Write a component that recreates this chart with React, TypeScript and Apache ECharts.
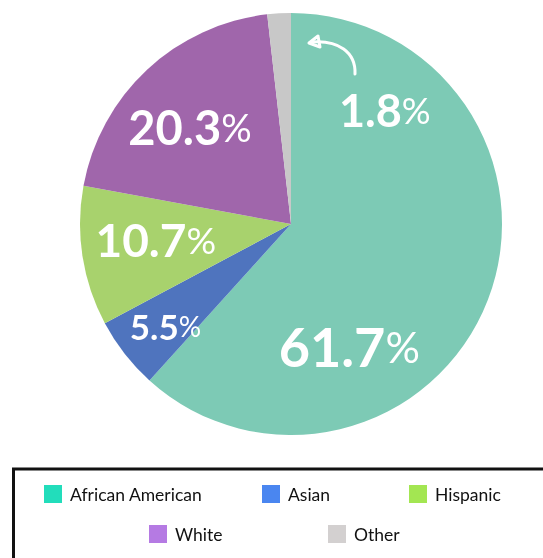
import React, { useEffect, useRef } from "react";
import * as echarts from "echarts";

const categories = ["African American", "Asian", "Hispanic", "White", "Other"];
const values = [61.7, 5.5, 10.7, 20.3, 1.8];
const sliceColors = ["#7DCAB5", "#4F74BE", "#A8D26D", "#A066AB", "#C8C8C8"];
const legendColors = ["#22DDBB", "#4A86F0", "#A3E652", "#B57AE3", "#D3D0D0"];

export default function App() {
  const ref = useRef<HTMLDivElement>(null);
  useEffect(() => {
    if (!ref.current) return;
    const chart = echarts.init(ref.current, undefined, { renderer: "svg" });
    const labelOffsets: Record<string, number[]> = {
      "African American": [-43, 84],
      Asian: [-40, 35],
      Hispanic: [-28, -1],
      White: [-27, -18],
      Other: [100, -6],
    };
    const bigSize: Record<string, number> = {
      "African American": 54,
      Asian: 35,
      Hispanic: 46,
      White: 47,
      Other: 45,
    };
    const legendPos = [
      { left: 44, top: 485 },
      { left: 262, top: 485 },
      { left: 409, top: 485 },
      { left: 149, top: 525 },
      { left: 328, top: 525 },
    ];
    const data = categories.map((name, i) => {
      const s = bigSize[name];
      return {
        name,
        value: values[i],
        itemStyle: { color: sliceColors[i] },
        label: {
          offset: labelOffsets[name],
          rich: {
            n: { fontSize: s, fontWeight: "bold", color: "#fff", fontFamily: "Lato" },
            p: { fontSize: Math.round(s * 0.8), fontWeight: "normal", color: "#fff", fontFamily: "Lato" },
          },
        },
      };
    });
    chart.setOption({
      animation: false,
      legend: categories.map((name, i) => ({
        data: [{ name, itemStyle: { color: legendColors[i] } }],
        left: legendPos[i].left,
        top: legendPos[i].top,
        padding: 0,
        itemWidth: 18,
        itemHeight: 18,
        icon: "rect",
        selectedMode: false,
        textStyle: { fontSize: 17.5, color: "#111", fontFamily: "Lato", padding: [0, 0, 0, 3] },
      })),
      graphic: [
        {
          type: "rect",
          shape: { x: 13.5, y: 469, width: 600, height: 200 },
          style: { fill: "none", stroke: "#111", lineWidth: 3 },
          silent: true,
        },
        {
          type: "bezierCurve",
          shape: { x1: 355, y1: 74, cpx1: 356, cpy1: 52, cpx2: 338, cpy2: 40, x2: 312, y2: 42 },
          style: { stroke: "#fff", lineWidth: 3, fill: "none", lineCap: "round" },
          silent: true,
          z: 10,
        },
        {
          type: "polygon",
          shape: { points: [[309, 43], [318, 36], [320, 47]] },
          style: { stroke: "#fff", lineWidth: 3, fill: "none", lineJoin: "round" },
          silent: true,
          z: 10,
        },
      ],
      series: [
        {
          type: "pie",
          center: [291, 224],
          radius: [0, 211],
          startAngle: 90,
          clockwise: true,
          silent: true,
          emphasis: { disabled: true },
          itemStyle: { borderWidth: 0 },
          label: {
            show: true,
            position: "inside",
            formatter: (p: any) => `{n|${p.value.toFixed(1)}}{p|%}`,
          },
          labelLine: { show: false },
          data,
        },
      ],
    });
    return () => chart.dispose();
  }, []);
  return (
    <div
      ref={ref}
      style={{ position: "fixed", left: 0, top: 0, width: 543, height: 558 }}
    />
  );
}
